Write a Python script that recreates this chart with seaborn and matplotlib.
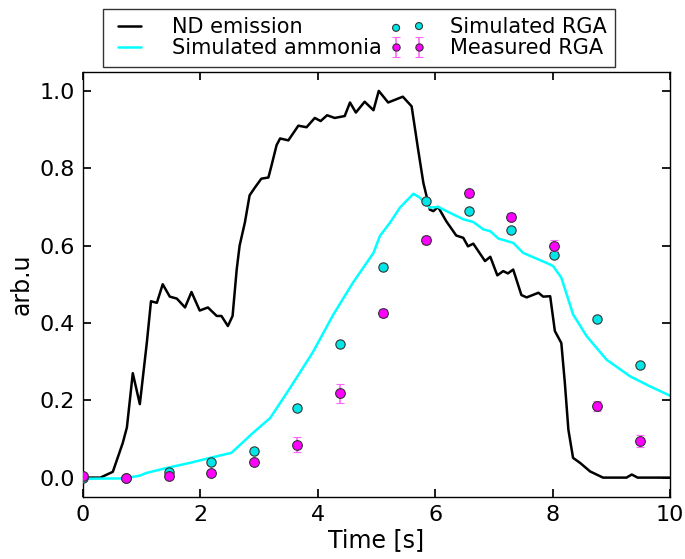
import matplotlib
matplotlib.use("Agg")
import matplotlib.pyplot as plt
import seaborn as sns
import pandas as pd

# ND emission trace (time [s], arb.u)
nd_time = [0.0, 0.30, 0.34, 0.51, 0.68, 0.75, 0.85, 0.97, 1.09, 1.16, 1.26, 1.36,
           1.48, 1.60, 1.74, 1.85, 1.99, 2.13, 2.28, 2.36, 2.47, 2.55, 2.62, 2.67,
           2.76, 2.84, 2.93, 3.04, 3.16, 3.21, 3.30, 3.36, 3.50, 3.67, 3.81, 3.95,
           4.05, 4.16, 4.29, 4.46, 4.55, 4.65, 4.80, 4.95, 5.04, 5.20, 5.45, 5.60,
           5.71, 5.80, 5.91, 5.97, 6.05, 6.19, 6.36, 6.48, 6.56, 6.65, 6.85, 6.94,
           7.06, 7.16, 7.24, 7.33, 7.47, 7.56, 7.76, 7.84, 7.96, 8.04, 8.15, 8.21,
           8.27, 8.35, 8.47, 8.64, 8.86, 9.26, 9.35, 9.45, 10.0]
nd_signal = [0.0, 0.0, 0.003, 0.015, 0.09, 0.13, 0.27, 0.19, 0.35, 0.456, 0.452, 0.50,
             0.468, 0.463, 0.44, 0.48, 0.432, 0.44, 0.418, 0.418, 0.392, 0.418, 0.538, 0.60,
             0.66, 0.73, 0.75, 0.773, 0.776, 0.805, 0.86, 0.877, 0.872, 0.91, 0.906, 0.93,
             0.922, 0.937, 0.93, 0.935, 0.97, 0.944, 0.972, 0.95, 1.0, 0.97, 0.985, 0.96,
             0.849, 0.762, 0.693, 0.689, 0.70, 0.663, 0.626, 0.62, 0.598, 0.605, 0.56, 0.571,
             0.523, 0.534, 0.528, 0.538, 0.472, 0.466, 0.478, 0.468, 0.469, 0.379, 0.348, 0.245,
             0.124, 0.051, 0.038, 0.016, 0.0, 0.0, 0.008, 0.0, 0.0]

# simulated ammonia trace
nh3_time = [0.0, 0.69, 0.97, 1.08, 1.43, 1.82, 2.22, 2.53, 2.90, 3.19, 3.53, 3.92,
            4.26, 4.60, 4.95, 5.06, 5.23, 5.40, 5.63, 5.74, 5.91, 6.05, 6.25, 6.48,
            6.65, 6.82, 6.94, 7.08, 7.33, 7.50, 7.90, 8.01, 8.15, 8.35, 8.58, 8.92,
            9.32, 9.66, 10.0]
nh3_signal = [-0.003, -0.002, 0.005, 0.012, 0.025, 0.038, 0.053, 0.064, 0.116, 0.154, 0.232, 0.325,
              0.42, 0.504, 0.581, 0.625, 0.659, 0.698, 0.734, 0.724, 0.698, 0.70, 0.685, 0.668,
              0.661, 0.642, 0.637, 0.618, 0.607, 0.581, 0.555, 0.547, 0.517, 0.422, 0.366, 0.305,
              0.262, 0.236, 0.212]

# RGA samples
rga_time = [0.0, 0.73, 1.46, 2.19, 2.92, 3.65, 4.38, 5.11, 5.84, 6.57, 7.30, 8.03, 8.76, 9.49]
sim_rga = [0.0, 0.0, 0.015, 0.04, 0.068, 0.18, 0.345, 0.545, 0.715, 0.69, 0.64, 0.575, 0.41, 0.29]
meas_rga = [0.005, 0.0, 0.005, 0.012, 0.04, 0.085, 0.218, 0.425, 0.615, 0.735, 0.675, 0.60, 0.185, 0.095]
meas_err = [0.008, 0.006, 0.006, 0.006, 0.008, 0.02, 0.025, 0.01, 0.01, 0.01, 0.01, 0.015, 0.012, 0.015]

nd = pd.DataFrame({"t": nd_time, "v": nd_signal})
nh3 = pd.DataFrame({"t": nh3_time, "v": nh3_signal})
rga = pd.DataFrame({"t": rga_time, "sim": sim_rga, "meas": meas_rga, "err": meas_err})

sns.set_theme(style="white")
plt.rcParams.update({
    "font.family": ["DejaVu Sans"],
    "text.color": "black", "axes.labelcolor": "black",
    "xtick.color": "black", "ytick.color": "black",
    "xtick.direction": "in", "ytick.direction": "in",
    "xtick.top": True, "ytick.right": True,
    "xtick.bottom": True, "ytick.left": True,
    "xtick.major.size": 6, "ytick.major.size": 6,
    "axes.edgecolor": "black", "axes.linewidth": 1.0,
})

fig = plt.figure(figsize=(6.85, 5.59), dpi=100)
ax = fig.add_axes([0.121, 0.111, 0.857, 0.761])

sns.lineplot(data=nd, x="t", y="v", ax=ax, color="black", lw=1.8,
             sort=False, estimator=None, label="ND emission")
sns.lineplot(data=nh3, x="t", y="v", ax=ax, color="#00ffff", lw=1.8,
             sort=False, estimator=None, label="Simulated ammonia")
sns.scatterplot(data=rga, x="t", y="sim", ax=ax, color="#00e5e5", s=45,
                edgecolor="#333333", linewidth=0.8, zorder=3, label="Simulated RGA")
ax.errorbar(rga["t"], rga["meas"], yerr=rga["err"], fmt="o", color="#ff00ff",
            ms=7, mec="#333333", mew=0.8, ecolor="#ff66ff", elinewidth=1.2,
            capsize=3, zorder=4, label="Measured RGA")

ax.set_xlim(0, 10)
ax.set_ylim(-0.05, 1.05)
ax.set_xticks([0, 2, 4, 6, 8, 10])
ax.set_yticks([0.0, 0.2, 0.4, 0.6, 0.8, 1.0])
ax.set_yticklabels(["0.0", "0.2", "0.4", "0.6", "0.8", "1.0"])
ax.tick_params(labelsize=16, pad=6, colors="black")
ax.set_xlabel("Time [s]", fontsize=17, labelpad=2)
ax.set_ylabel("arb.u", fontsize=17)

leg = ax.legend(loc="upper left", bbox_to_anchor=(103 / 685, 1 - 9 / 559),
                bbox_transform=fig.transFigure, ncol=2, fontsize=15,
                numpoints=2, scatterpoints=2, markerscale=0.75,
                frameon=True, fancybox=False, handlelength=1.7,
                borderpad=0.4, labelspacing=0.05, columnspacing=0.4,
                handletextpad=1.2, borderaxespad=0)
leg.get_frame().set_edgecolor("black")
leg.get_frame().set_linewidth(1.0)
for txt in leg.get_texts():
    txt.set_color("black")

fig.savefig("out.png", dpi=100)
